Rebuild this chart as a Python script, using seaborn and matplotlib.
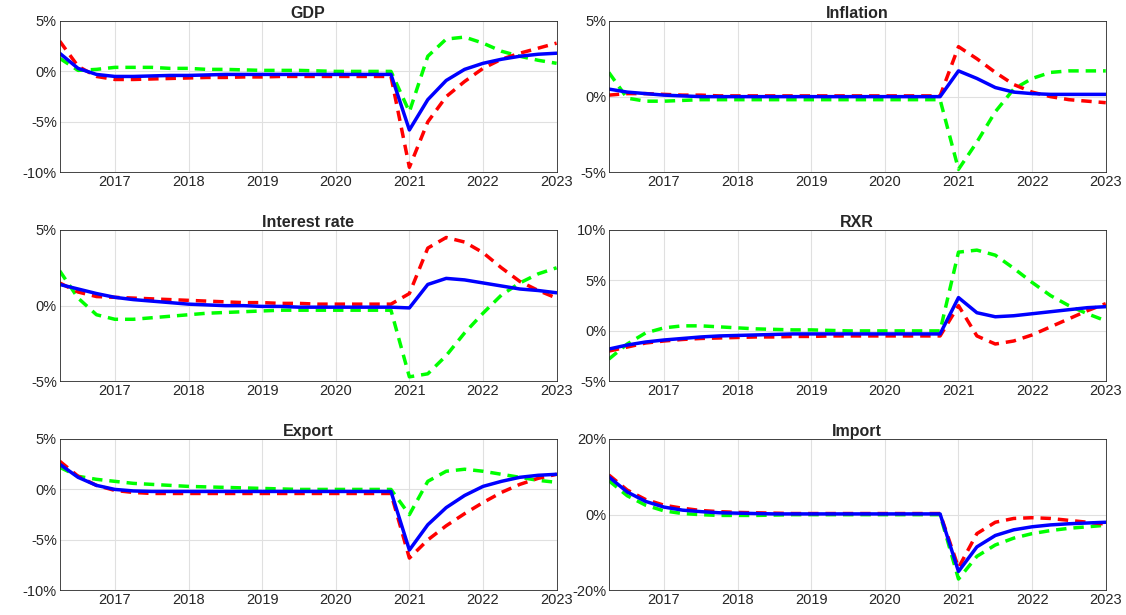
"""
Impulse responses, six panels, three scenarios.
"""

import matplotlib.pyplot as plt
import matplotlib.ticker as mticker
import numpy as np
import pandas as pd
import seaborn as sns

quarters = np.arange(28) * 0.25 + 2016.25

titles = ["GDP", "Inflation", "Interest rate", "RXR", "Export", "Import"]

gdp_blue = [1.8, 0.3, -0.3, -0.5, -0.5, -0.45, -0.4, -0.4, -0.35, -0.3, -0.3, -0.3, -0.3, -0.3, -0.3, -0.3, -0.3, -0.3, -0.3, -5.8, -2.8, -0.9, 0.2, 0.8, 1.2, 1.5, 1.7, 1.8]
gdp_red = [3.0, 0.5, -0.5, -0.8, -0.8, -0.75, -0.7, -0.65, -0.6, -0.6, -0.55, -0.55, -0.5, -0.5, -0.5, -0.5, -0.5, -0.5, -0.5, -9.5, -5.0, -2.5, -1.0, 0.3, 1.2, 1.8, 2.3, 2.8]
gdp_green = [1.3, 0.1, 0.2, 0.4, 0.4, 0.4, 0.3, 0.3, 0.2, 0.2, 0.15, 0.1, 0.1, 0.1, 0.05, 0, 0, 0, 0, -4.0, 1.5, 3.2, 3.4, 2.8, 2.0, 1.5, 1.1, 0.8]

inf_blue = [0.5, 0.3, 0.2, 0.1, 0.05, 0, 0, 0, 0, 0, 0, 0, 0, 0, 0, 0, 0, 0, 0, 1.7, 1.2, 0.6, 0.3, 0.2, 0.15, 0.15, 0.15, 0.15]
inf_red = [0.1, 0.2, 0.2, 0.15, 0.1, 0.1, 0.05, 0.05, 0.05, 0.05, 0.05, 0.05, 0.05, 0.05, 0.05, 0.05, 0.05, 0.05, 0.05, 3.3, 2.5, 1.6, 0.8, 0.3, 0, -0.2, -0.3, -0.4]
inf_green = [1.6, -0.1, -0.3, -0.3, -0.25, -0.2, -0.2, -0.2, -0.2, -0.2, -0.2, -0.2, -0.2, -0.2, -0.2, -0.2, -0.2, -0.2, -0.2, -4.8, -3.0, -1.0, 0.5, 1.2, 1.6, 1.7, 1.7, 1.7]

ir_blue = [1.4, 1.1, 0.8, 0.55, 0.4, 0.3, 0.2, 0.1, 0.05, 0, 0, -0.05, -0.05, -0.1, -0.1, -0.1, -0.1, -0.1, -0.1, -0.15, 1.4, 1.8, 1.7, 1.5, 1.3, 1.1, 1.0, 0.85]
ir_red = [1.5, 0.9, 0.6, 0.55, 0.5, 0.45, 0.4, 0.35, 0.3, 0.25, 0.2, 0.2, 0.15, 0.15, 0.1, 0.1, 0.1, 0.1, 0.1, 0.8, 3.8, 4.5, 4.2, 3.5, 2.5, 1.6, 1.0, 0.5]
ir_green = [2.3, 0.5, -0.6, -0.9, -0.9, -0.8, -0.7, -0.6, -0.5, -0.45, -0.4, -0.35, -0.3, -0.3, -0.3, -0.3, -0.3, -0.3, -0.3, -4.7, -4.5, -3.3, -1.8, -0.5, 0.7, 1.5, 2.1, 2.5]

rxr_blue = [-1.8, -1.4, -1.1, -0.9, -0.75, -0.6, -0.5, -0.45, -0.4, -0.35, -0.3, -0.3, -0.3, -0.3, -0.3, -0.3, -0.3, -0.3, -0.3, 3.3, 1.8, 1.4, 1.5, 1.7, 1.9, 2.1, 2.3, 2.4]
rxr_red = [-2.0, -1.6, -1.2, -1.0, -0.85, -0.75, -0.7, -0.65, -0.6, -0.6, -0.55, -0.55, -0.5, -0.5, -0.5, -0.5, -0.5, -0.5, -0.5, 2.5, -0.5, -1.3, -1.0, -0.4, 0.4, 1.2, 2.0, 2.7]
rxr_green = [-2.8, -1.3, -0.2, 0.3, 0.5, 0.5, 0.4, 0.3, 0.2, 0.15, 0.1, 0.1, 0.05, 0, 0, 0, 0, 0, 0, 7.8, 8.0, 7.5, 6.2, 4.8, 3.5, 2.5, 1.7, 1.0]

exp_blue = [2.5, 1.2, 0.4, 0, -0.15, -0.2, -0.2, -0.2, -0.2, -0.2, -0.2, -0.2, -0.2, -0.2, -0.2, -0.2, -0.2, -0.2, -0.2, -6.0, -3.5, -1.8, -0.6, 0.3, 0.8, 1.2, 1.4, 1.5]
exp_red = [2.8, 1.3, 0.4, -0.1, -0.3, -0.4, -0.4, -0.4, -0.4, -0.4, -0.4, -0.4, -0.4, -0.4, -0.4, -0.4, -0.4, -0.4, -0.4, -6.8, -5.0, -3.6, -2.4, -1.3, -0.3, 0.5, 1.1, 1.5]
exp_green = [2.2, 1.3, 1.0, 0.8, 0.6, 0.5, 0.4, 0.3, 0.25, 0.2, 0.15, 0.1, 0.05, 0, 0, 0, 0, 0, 0, -2.5, 0.8, 1.8, 2.0, 1.8, 1.5, 1.2, 0.9, 0.7]

imp_blue = [10, 6, 3.5, 2, 1.2, 0.8, 0.5, 0.4, 0.3, 0.2, 0.2, 0.2, 0.2, 0.2, 0.2, 0.2, 0.2, 0.2, 0.2, -15, -8.5, -5.5, -4, -3.2, -2.7, -2.4, -2.2, -2.0]
imp_red = [10.5, 6.5, 4, 2.5, 1.7, 1.1, 0.8, 0.6, 0.5, 0.4, 0.3, 0.3, 0.3, 0.3, 0.3, 0.3, 0.3, 0.3, 0.3, -14, -5, -2, -1, -0.8, -1, -1.5, -2, -2.5]
imp_green = [9, 5, 2.5, 1, 0.3, 0, -0.2, -0.2, -0.2, -0.1, 0, 0, 0, 0, 0, 0, 0, 0, 0, -17, -11, -8, -6.2, -5, -4.2, -3.6, -3.2, -2.8]

series = [
    (gdp_blue, gdp_red, gdp_green),
    (inf_blue, inf_red, inf_green),
    (ir_blue, ir_red, ir_green),
    (rxr_blue, rxr_red, rxr_green),
    (exp_blue, exp_red, exp_green),
    (imp_blue, imp_red, imp_green),
]
ylims = [(-10, 5), (-5, 5), (-5, 5), (-5, 10), (-10, 5), (-20, 20)]
yticks = [[-10, -5, 0, 5], [-5, 0, 5], [-5, 0, 5], [-5, 0, 5, 10], [-10, -5, 0, 5], [-20, 0, 20]]

sns.set_style("whitegrid")
plt.rcParams["font.family"] = ["Liberation Sans", "DejaVu Sans"]

fig, axes = plt.subplots(3, 2, figsize=(11.26, 6.15), dpi=100)
fig.subplots_adjust(left=0.053, right=0.982, top=0.966, bottom=0.04, hspace=0.38, wspace=0.105)

for i, ax in enumerate(axes.flat):
    blue, red, green = series[i]
    df = pd.DataFrame({"x": quarters, "blue": blue, "red": red, "green": green})
    sns.lineplot(data=df, x="x", y="green", ax=ax, color="#00ff00", linewidth=2.5, linestyle=(0, (3, 2)))
    sns.lineplot(data=df, x="x", y="red", ax=ax, color="#ff0000", linewidth=2.5, linestyle=(0, (3, 2)))
    sns.lineplot(data=df, x="x", y="blue", ax=ax, color="#0000ff", linewidth=2.5)
    ax.set_xlim(2016.25, 2023)
    ax.set_ylim(*ylims[i])
    ax.set_xticks(range(2017, 2024))
    ax.set_yticks(yticks[i])
    ax.yaxis.set_major_formatter(mticker.FuncFormatter(lambda v, p: f"{v:.0f}%"))
    ax.set_xlabel("")
    ax.set_ylabel("")
    ax.set_title(titles[i], fontsize=11.5, fontweight="bold", pad=2)
    ax.tick_params(labelsize=10.5, length=0, pad=2)
    ax.grid(True, color="#e0e0e0", linewidth=0.8)
    for s in ax.spines.values():
        s.set_color("#262626")
        s.set_linewidth(0.6)

plt.savefig("out.png", dpi=100)
plt.close()
